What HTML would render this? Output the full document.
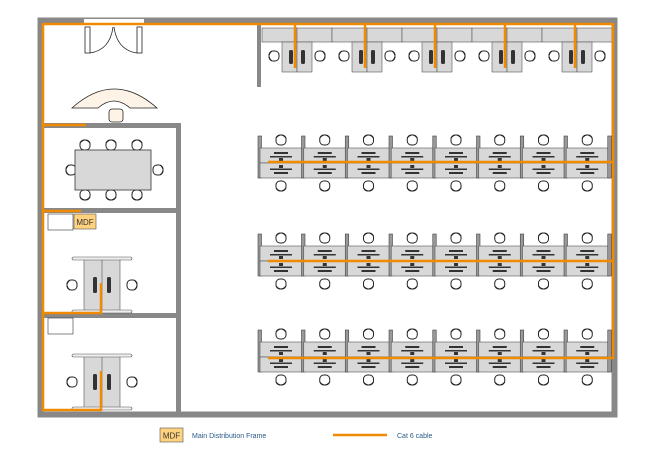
<!DOCTYPE html>
<html><head><style>
html,body{margin:0;padding:0;background:#fff;width:650px;height:460px;overflow:hidden}
svg{display:block}
text{font-family:"Liberation Sans",sans-serif}
</style></head><body>
<svg width="650" height="460" viewBox="0 0 650 460" xmlns="http://www.w3.org/2000/svg">
<defs>
  <g id="chair">
    <rect x="-5" y="-5" width="10" height="10" rx="4" fill="#fff" stroke="#222" stroke-width="1"/>
    <path d="M-5,-2 Q0,-8 5,-2" fill="none" stroke="#222" stroke-width="1"/>
  </g>
  <g id="col">
    <!-- desk halves -->
    <rect x="0" y="0" width="43.75" height="15" fill="#d8d8d8" stroke="#555" stroke-width="0.6"/>
    <rect x="0" y="15" width="43.75" height="15" fill="#d8d8d8" stroke="#555" stroke-width="0.6"/>
    <rect x="14" y="4" width="14" height="2" fill="#333"/>
    <rect x="10" y="8" width="22" height="1.5" fill="#333"/>
    <rect x="19" y="10" width="4" height="3" fill="#333"/>
    <rect x="19" y="17" width="4" height="3" fill="#333"/>
    <rect x="10" y="20.5" width="22" height="1.5" fill="#333"/>
    <rect x="14" y="24" width="14" height="2" fill="#333"/>
    <use href="#chair" x="21" y="-8"/>
    <use href="#chair" x="21" y="38" transform="rotate(180 21 38)"/>
    <rect x="41.5" y="-12" width="3.5" height="42" fill="#999" stroke="#444" stroke-width="0.6"/>
  </g>
  <g id="cluster">
    <rect x="-2" y="-12" width="3.5" height="42" fill="#999" stroke="#444" stroke-width="0.6"/>
    <use href="#col" x="0"/><use href="#col" x="43.75"/><use href="#col" x="87.5"/><use href="#col" x="131.25"/>
    <use href="#col" x="175"/><use href="#col" x="218.75"/><use href="#col" x="262.5"/><use href="#col" x="306.25"/>
  </g>
  <g id="toppair">
    <rect x="0" y="0" width="35" height="14" fill="#d8d8d8" stroke="#555" stroke-width="0.6"/>
    <rect x="35" y="0" width="35" height="14" fill="#d8d8d8" stroke="#555" stroke-width="0.6"/>
    <rect x="20" y="14" width="15" height="30" fill="#d8d8d8" stroke="#555" stroke-width="0.6"/>
    <rect x="35" y="14" width="15" height="30" fill="#d8d8d8" stroke="#555" stroke-width="0.6"/>
    <rect x="27" y="22" width="4" height="14" rx="1.5" fill="#333"/>
    <rect x="39" y="22" width="4" height="14" rx="1.5" fill="#333"/>
    <use href="#chair" x="12" y="28" transform="rotate(-90 12 28)"/>
    <use href="#chair" x="58" y="28" transform="rotate(90 58 28)"/>
  </g>
  <g id="smalldesk">
    <rect x="0" y="0" width="36" height="52" fill="#d8d8d8" stroke="#555" stroke-width="0.6"/>
    <line x1="18" y1="0" x2="18" y2="52" stroke="#555" stroke-width="0.6"/>
    <rect x="-12" y="-2" width="60" height="3" rx="1.5" fill="#eee" stroke="#555" stroke-width="0.6"/>
    <rect x="-12" y="51" width="60" height="3" rx="1.5" fill="#eee" stroke="#555" stroke-width="0.6"/>
    <rect x="9" y="18" width="4" height="16" rx="1.5" fill="#333"/>
    <rect x="23" y="18" width="4" height="16" rx="1.5" fill="#333"/>
    <use href="#chair" x="-12" y="26" transform="rotate(-90 -12 26)"/>
    <use href="#chair" x="48" y="26" transform="rotate(90 48 26)"/>
  </g>
</defs>

<!-- outer walls -->
<rect x="40.5" y="20.5" width="574" height="394" fill="none" stroke="#888" stroke-width="6"/>
<!-- inner walls -->
<rect x="176" y="124" width="5" height="290" fill="#888"/>
<rect x="43" y="123" width="138" height="5" fill="#888"/>
<rect x="43" y="208" width="138" height="5" fill="#888"/>
<rect x="43" y="313" width="138" height="5" fill="#888"/>
<rect x="257" y="23" width="4" height="64" fill="#888"/>

<!-- door -->
<rect x="84" y="19" width="60" height="5" fill="#fff"/>
<rect x="85" y="27" width="5" height="26" fill="#fff" stroke="#222" stroke-width="0.8"/>
<rect x="137" y="27" width="5" height="26" fill="#fff" stroke="#222" stroke-width="0.8"/>
<path d="M90,53 Q110,50 113,27 M137,53 Q117,50 114,27" fill="none" stroke="#222" stroke-width="0.8"/>

<!-- reception desk -->
<path d="M72,108 Q114,70 157,108 L130,108 Q114,94 98,108 Z" fill="#fdf3e6" stroke="#222" stroke-width="0.8"/>
<rect x="109" y="109" width="14" height="13" rx="3" fill="#fdf3e6" stroke="#222" stroke-width="0.8"/>

<!-- conference -->
<use href="#chair" x="85" y="145"/><use href="#chair" x="111" y="145"/><use href="#chair" x="137" y="145"/>
<use href="#chair" x="85" y="195" transform="rotate(180 85 195)"/><use href="#chair" x="111" y="195" transform="rotate(180 111 195)"/><use href="#chair" x="137" y="195" transform="rotate(180 137 195)"/>
<use href="#chair" x="71" y="170" transform="rotate(-90 71 170)"/><use href="#chair" x="158" y="170" transform="rotate(90 158 170)"/>
<rect x="75" y="150" width="76" height="40" fill="#d8d8d8" stroke="#333" stroke-width="0.8"/>

<!-- small rooms -->
<rect x="48" y="214" width="25" height="16" fill="#fff" stroke="#333" stroke-width="0.6"/>
<rect x="48" y="318" width="25" height="16" fill="#fff" stroke="#333" stroke-width="0.6"/>
<use href="#smalldesk" x="84" y="259"/>
<use href="#smalldesk" x="84" y="356"/>

<!-- top desks -->
<use href="#toppair" x="262" y="28"/><use href="#toppair" x="332" y="28"/><use href="#toppair" x="402" y="28"/>
<use href="#toppair" x="472" y="28"/><use href="#toppair" x="542" y="28"/>

<!-- clusters -->
<use href="#cluster" x="260" y="148"/>
<use href="#cluster" x="260" y="246"/>
<use href="#cluster" x="260" y="342"/>

<!-- cable -->
<g stroke="#f08a00" stroke-width="2.5" fill="none">
  <polyline points="43,24 613,24 613,358 268,358"/>
  <line x1="43" y1="23" x2="43" y2="411"/>
  <line x1="43" y1="125" x2="86" y2="125"/>
  <line x1="43" y1="211" x2="81" y2="211"/>
  <polyline points="43,313 101,313 101,283"/>
  <polyline points="43,410 101,410 101,371"/>
  <line x1="268" y1="162" x2="613" y2="162"/>
  <line x1="268" y1="261" x2="613" y2="261"/>
  <line x1="295" y1="24" x2="295" y2="68"/><line x1="365" y1="24" x2="365" y2="68"/>
  <line x1="435" y1="24" x2="435" y2="68"/><line x1="505" y1="24" x2="505" y2="68"/>
  <line x1="575" y1="24" x2="575" y2="68"/>
</g>

<!-- MDF -->
<rect x="74" y="214" width="22" height="15" fill="#ffd27f" stroke="#555" stroke-width="0.6"/>
<text x="85" y="225" font-size="8" text-anchor="middle" fill="#333">MDF</text>

<!-- legend -->
<rect x="160" y="428" width="23" height="14" fill="#ffd27f" stroke="#555" stroke-width="0.6"/>
<text x="171.5" y="438.5" font-size="8" text-anchor="middle" fill="#333">MDF</text>
<text x="192" y="438" font-size="7" fill="#2a5a8a">Main Distribution Frame</text>
<line x1="333" y1="435" x2="387" y2="435" stroke="#f08a00" stroke-width="2.5"/>
<text x="397" y="438" font-size="7" fill="#2a5a8a">Cat 6 cable</text>
</svg>
</body></html>
